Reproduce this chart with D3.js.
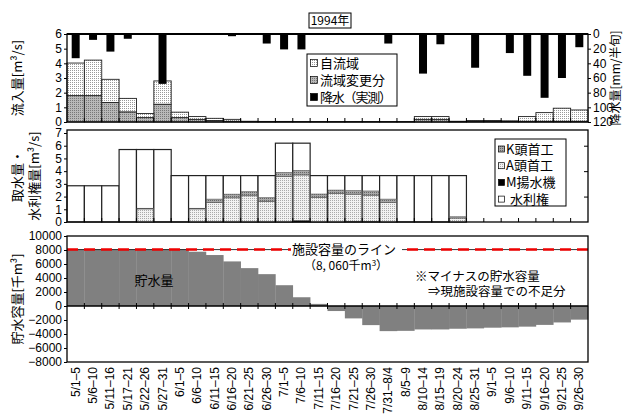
<!DOCTYPE html>
<html>
<head>
<meta charset="utf-8">
<script src="https://cdn.jsdelivr.net/npm/d3@7"></script>
<style>
  body { margin: 0; background: #fff; }
  text { font-family: "Liberation Sans", Arial, sans-serif; fill: #000; }
  .jp { font-family: "Noto Sans CJK JP", sans-serif; }
  .axis path { display: none; }
  .axis line { stroke: #000; }
  .axis text { font-family: "Liberation Sans Narrow", "Liberation Sans", Arial, sans-serif; font-size: 12px; }
</style>
</head>
<body>
<svg id="chart" width="623" height="414"></svg>
<script>
// half-month periods (半旬)
const periods = ["5/1–5", "5/6–10", "5/11–16", "5/17–21", "5/22–26", "5/27–31",
  "6/1–5", "6/6–10", "6/11–15", "6/16–20", "6/21–25", "6/26–30",
  "7/1–5", "7/6–10", "7/11–15", "7/16–20", "7/21–25", "7/26–30",
  "7/31–8/4", "8/5–9", "8/10–14", "8/15–19", "8/20–24", "8/25–31",
  "9/1–5", "9/6–10", "9/11–15", "9/16–20", "9/21–25", "9/26–30"];

// inflow [m3/s]
const ownInflow = [2.22, 2.42, 1.58, 0.92, 0.28, 1.59, 0.37, 0.19, 0.15, 0.13,
  0.03, 0.02, 0.02, 0.01, 0.01, 0.01, 0.01, 0.01, 0.01, 0.01,
  0.19, 0.19, 0.03, 0.07, 0.06, 0.05, 0.32, 0.59, 0.89, 0.77];
const divertedInflow = [1.8, 1.8, 1.33, 0.69, 0.3, 1.21, 0.3, 0.18, 0.1, 0.05,
  0.02, 0.02, 0.02, 0.02, 0.02, 0.02, 0.02, 0.02, 0.02, 0.02,
  0.18, 0.18, 0.02, 0.03, 0.04, 0.03, 0.05, 0.05, 0.05, 0.05];
// rainfall [mm/半旬]
const rainfall = [33, 8, 24, 6.5, 0, 68, 0, 0, 0, 3, 0, 13, 21, 21, 0,
  0, 0, 0, 13, 0, 54, 14, 0, 46, 0, 26, 57, 87, 60, 18];

// intake and water rights [m3/s]
const waterRight = [2.85, 2.85, 2.85, 5.7, 5.7, 5.7, 3.65, 3.65, 3.65, 3.65, 3.65, 3.65,
  6.2, 6.2, 3.65, 3.65, 3.65, 3.65, 3.65, 3.65, 3.65, 3.65, 3.65, 0, 0, 0, 0, 0, 0, 0];
const intakeM = [0, 0, 0, 0, 0, 0, 0, 0, 0, 0, 0, 0, 0, 0.12, 0, 0, 0.05, 0.05,
  0, 0, 0, 0, 0, 0, 0, 0, 0, 0, 0, 0];
const intakeA = [0, 0, 0, 0, 1.03, 0, 0, 1.03, 1.53, 1.9, 2.06, 1.63, 3.57, 3.58,
  1.94, 2.24, 2.14, 2.06, 1.53, 0, 0, 0, 0.31, 0, 0, 0, 0, 0, 0, 0];
const intakeK = [0, 0, 0, 0, 0.05, 0, 0, 0.05, 0.27, 0.29, 0.32, 0.28, 0.32, 0.35,
  0.26, 0.27, 0.27, 0.33, 0.27, 0, 0, 0, 0.1, 0, 0, 0, 0, 0, 0, 0];

// storage [千m3]
const storage = [8060, 8060, 8060, 8060, 8060, 8060, 8060, 7756, 7280, 6370,
  5410, 4550, 2970, 1250, 300, -720, -1770, -2730, -3590, -3550,
  -3350, -3350, -3250, -3200, -3100, -3050, -2950, -2700, -2350, -1950];
const capacity = 8060;

const svg = d3.select("#chart");
const left = 67, right = 588;
const x = d3.scaleBand().domain(periods).range([left, right]);

// fill patterns
const defs = svg.append("defs");
function dotPattern(id, bg, dot, w, h) {
  const p = defs.append("pattern")
                .attr("id", id)
                .attr("width", w)
                .attr("height", h)
                .attr("patternUnits", "userSpaceOnUse");
  p.append("rect").attr("width", w).attr("height", h).attr("fill", bg);
  p.append("rect").attr("width", 1).attr("height", 1).attr("fill", dot);
}
dotPattern("pOwn", "#fff", "#999", 2, 2);
dotPattern("pDiv", "#b8b8b8", "#777", 2, 2);
dotPattern("pA", "#f2f2f2", "#aaa", 2, 2);
dotPattern("pK", "#a8a8a8", "#666", 2, 2);

// title
svg.append("rect")
   .attr("x", 309).attr("y", 13).attr("width", 42).attr("height", 15)
   .attr("fill", "#fff").attr("stroke", "#000");
svg.append("text")
   .attr("class", "jp")
   .attr("x", 330).attr("y", 25)
   .attr("text-anchor", "middle")
   .style("font-size", "12px")
   .text("1994年");

function bottomTicks(y, up, down) {
  svg.append("g")
     .selectAll("line")
     .data(periods.slice(1))
     .join("line")
     .attr("x1", d => x(d)).attr("x2", d => x(d))
     .attr("y1", y - up).attr("y2", y + down)
     .attr("stroke", "#000");
}

function frame(top, bottom) {
  svg.append("rect")
     .attr("x", left).attr("y", top)
     .attr("width", right - left).attr("height", bottom - top)
     .attr("fill", "none").attr("stroke", "#000").attr("stroke-width", 1.3);
}

function yTitle(lines, cx, cy) {
  const t = svg.append("text")
               .attr("class", "jp")
               .attr("transform", `translate(${cx},${cy}) rotate(-90)`)
               .attr("text-anchor", "middle")
               .style("font-size", "13px");
  lines.forEach((l, i) => {
    t.append("tspan").attr("x", 0).attr("dy", i == 0 ? 0 : 17).text(l);
  });
}

// ---- Panel 1: inflow and rainfall
const top1 = 34, bot1 = 122;
const y1 = d3.scaleLinear().domain([0, 6]).range([bot1, top1]);
const yRain = d3.scaleLinear().domain([0, 120]).range([top1, bot1]);

const inflowRows = periods.map((p, i) => ({period: p, own: ownInflow[i], div: divertedInflow[i]}));
const inflowStack = d3.stack().keys(["div", "own"])(inflowRows);
svg.append("g")
   .selectAll("g")
   .data(inflowStack)
   .join("g")
   .attr("fill", d => d.key == "div" ? "url(#pDiv)" : "url(#pOwn)")
   .selectAll("rect")
   .data(d => d)
   .join("rect")
   .attr("x", d => x(d.data.period))
   .attr("width", x.bandwidth())
   .attr("y", d => y1(d[1]))
   .attr("height", d => y1(d[0]) - y1(d[1]))
   .attr("stroke", "#222")
   .attr("stroke-width", 0.9);

const rainW = x.bandwidth() * 0.46;
svg.append("g")
   .selectAll("rect")
   .data(rainfall)
   .join("rect")
   .attr("x", (d, i) => x(periods[i]) + (x.bandwidth() - rainW) / 2)
   .attr("width", rainW)
   .attr("y", yRain(0))
   .attr("height", d => yRain(d) - yRain(0))
   .attr("fill", "#000");

frame(top1, bot1);
svg.append("line")
   .attr("x1", left).attr("x2", right).attr("y1", top1).attr("y2", top1)
   .attr("stroke", "#000").attr("stroke-width", 2);
bottomTicks(bot1, 4, 0);

svg.append("g")
   .attr("class", "axis")
   .attr("transform", `translate(${left},0)`)
   .call(d3.axisLeft(y1).ticks(6).tickSize(3).tickPadding(2));
svg.append("g")
   .attr("class", "axis")
   .attr("transform", `translate(${right},0)`)
   .call(d3.axisRight(yRain).ticks(6).tickSize(3).tickPadding(2));

yTitle(["流入量[m³/s]"], 22, 78);
svg.append("text")
   .attr("class", "jp")
   .attr("transform", `translate(620,${(top1 + bot1) / 2}) rotate(-90)`)
   .attr("text-anchor", "middle")
   .style("font-size", "12px")
   .text("降水量[mm/半旬]");

// legend 1
const leg1 = svg.append("g");
leg1.append("rect")
    .attr("x", 307).attr("y", 54).attr("width", 90).attr("height", 52)
    .attr("fill", "#fff").attr("stroke", "#000");
[["自流域", "url(#pOwn)"], ["流域変更分", "url(#pDiv)"], ["降水（実測）", "#000"]]
  .forEach(([label, fill], i) => {
    const cy = 63 + i * 17;
    leg1.append("rect")
        .attr("x", 310.5).attr("y", cy - 3.5).attr("width", 7).attr("height", 7)
        .attr("fill", fill).attr("stroke", "#000").attr("stroke-width", 0.7);
    leg1.append("text")
        .attr("class", "jp")
        .attr("x", 320).attr("y", cy + 4.5)
        .attr("textLength", i == 2 ? 72 : null)
        .style("font-size", "13px")
        .text(label);
  });

// ---- Panel 2: intake and water rights
const top2 = 130, bot2 = 222;
const y2 = d3.scaleLinear().domain([0, 7]).range([bot2, 133]);

svg.append("g")
   .selectAll("rect")
   .data(waterRight)
   .join("rect")
   .attr("x", (d, i) => x(periods[i]))
   .attr("width", x.bandwidth())
   .attr("y", d => y2(d))
   .attr("height", d => y2(0) - y2(d))
   .attr("fill", "#fff")
   .attr("stroke", d => d > 0 ? "#222" : "none")
   .attr("stroke-width", 1.2);

const intakeRows = periods.map((p, i) => ({period: p, M: intakeM[i], A: intakeA[i], K: intakeK[i]}));
const intakeFill = {M: "#000", A: "url(#pA)", K: "url(#pK)"};
svg.append("g")
   .selectAll("g")
   .data(d3.stack().keys(["M", "A", "K"])(intakeRows))
   .join("g")
   .attr("fill", d => intakeFill[d.key])
   .selectAll("rect")
   .data(d => d.filter(v => v[1] - v[0] > 0))
   .join("rect")
   .attr("x", d => x(d.data.period) + 0.6)
   .attr("width", x.bandwidth() - 1.2)
   .attr("y", d => y2(d[1]))
   .attr("height", d => y2(d[0]) - y2(d[1]))
   .attr("stroke", "#555")
   .attr("stroke-width", 0.6);

frame(top2, bot2);
bottomTicks(bot2, 4, 0);
svg.append("g")
   .attr("class", "axis")
   .attr("transform", `translate(${left},0)`)
   .call(d3.axisLeft(y2).ticks(7).tickSize(3).tickPadding(2));
svg.append("g")
   .attr("class", "axis")
   .attr("transform", `translate(${right},0)`)
   .call(d3.axisLeft(y2).tickValues([2, 4, 6]).tickSize(4).tickFormat(""));

yTitle(["取水量・", "水利権量[m³/s]"], 22, 176);

// legend 2
const leg2 = svg.append("g");
leg2.append("rect")
    .attr("x", 495).attr("y", 139).attr("width", 71).attr("height", 67)
    .attr("fill", "#fff").attr("stroke", "#000");
[["K頭首工", "url(#pK)"], ["A頭首工", "url(#pA)"], ["M揚水機", "#000"], ["水利権", "#fff"]]
  .forEach(([label, fill], i) => {
    const cy = 149 + i * 16.7;
    leg2.append("rect")
        .attr("x", 498.5).attr("y", cy - 3).attr("width", 6).attr("height", 6)
        .attr("fill", fill).attr("stroke", "#000").attr("stroke-width", 0.7);
    leg2.append("text")
        .attr("class", "jp")
        .attr("x", i == 3 ? 510 : 506).attr("y", cy + 4.5)
        .style("font-size", "13px")
        .text(label);
  });

// ---- Panel 3: storage
const top3 = 236, bot3 = 362;
const y3 = d3.scaleLinear().domain([-8000, 10000]).range([bot3, top3]);

svg.append("g")
   .selectAll("rect")
   .data(storage)
   .join("rect")
   .attr("x", (d, i) => x(periods[i]))
   .attr("width", x.bandwidth() + 0.3)
   .attr("y", d => y3(Math.max(0, d)))
   .attr("height", d => Math.abs(y3(d) - y3(0)))
   .attr("fill", "#808080");

// capacity line
svg.append("line")
   .attr("x1", left).attr("x2", right)
   .attr("y1", y3(capacity)).attr("y2", y3(capacity))
   .attr("stroke", "#000").attr("stroke-width", 0.8);
svg.append("line")
   .attr("x1", left).attr("x2", right)
   .attr("y1", y3(capacity)).attr("y2", y3(capacity))
   .attr("stroke", "#e00").attr("stroke-width", 2.5)
   .attr("stroke-dasharray", "11,6");
svg.append("rect")
   .attr("x", 291).attr("y", y3(capacity) - 8).attr("width", 111).attr("height", 15)
   .attr("fill", "#fff");
svg.append("text")
   .attr("class", "jp")
   .attr("x", 292).attr("y", y3(capacity) + 4)
   .style("font-size", "13px")
   .text("施設容量のライン");
svg.append("text")
   .attr("class", "jp")
   .attr("x", 346).attr("y", 270)
   .attr("text-anchor", "middle")
   .style("font-size", "12px")
   .html("（8, 060千m<tspan dy='-4' style='font-size:8px'>3</tspan><tspan dy='4'>）</tspan>");
svg.append("text")
   .attr("class", "jp")
   .attr("x", 154).attr("y", 285)
   .attr("text-anchor", "middle")
   .style("font-size", "13px")
   .text("貯水量");
svg.append("text")
   .attr("class", "jp")
   .attr("x", 415).attr("y", 281)
   .style("font-size", "12.5px")
   .text("※マイナスの貯水容量");
svg.append("text")
   .attr("class", "jp")
   .attr("x", 428).attr("y", 296)
   .style("font-size", "12.5px")
   .text("⇒現施設容量での不足分");

frame(top3, bot3);
svg.append("line")
   .attr("x1", left).attr("x2", right).attr("y1", y3(0)).attr("y2", y3(0))
   .attr("stroke", "#000").attr("stroke-width", 1.5);
bottomTicks(y3(0), 3, 3);
svg.append("g")
   .attr("class", "axis")
   .attr("transform", `translate(${left},0)`)
   .call(d3.axisLeft(y3).tickValues(d3.range(-8000, 10001, 2000))
           .tickSize(3).tickPadding(2).tickFormat(d3.format("d")));

yTitle(["貯水容量[千m³]"], 22, 299);

// x labels
svg.append("g")
   .selectAll("text")
   .data(periods)
   .join("text")
   .attr("transform", d => `translate(${x(d) + x.bandwidth() / 2 + 4},${bot3 + 5}) rotate(-90)`)
   .attr("text-anchor", "end")
   .style("font-size", "12px")
   .text(d => d);
</script>
</body>
</html>
